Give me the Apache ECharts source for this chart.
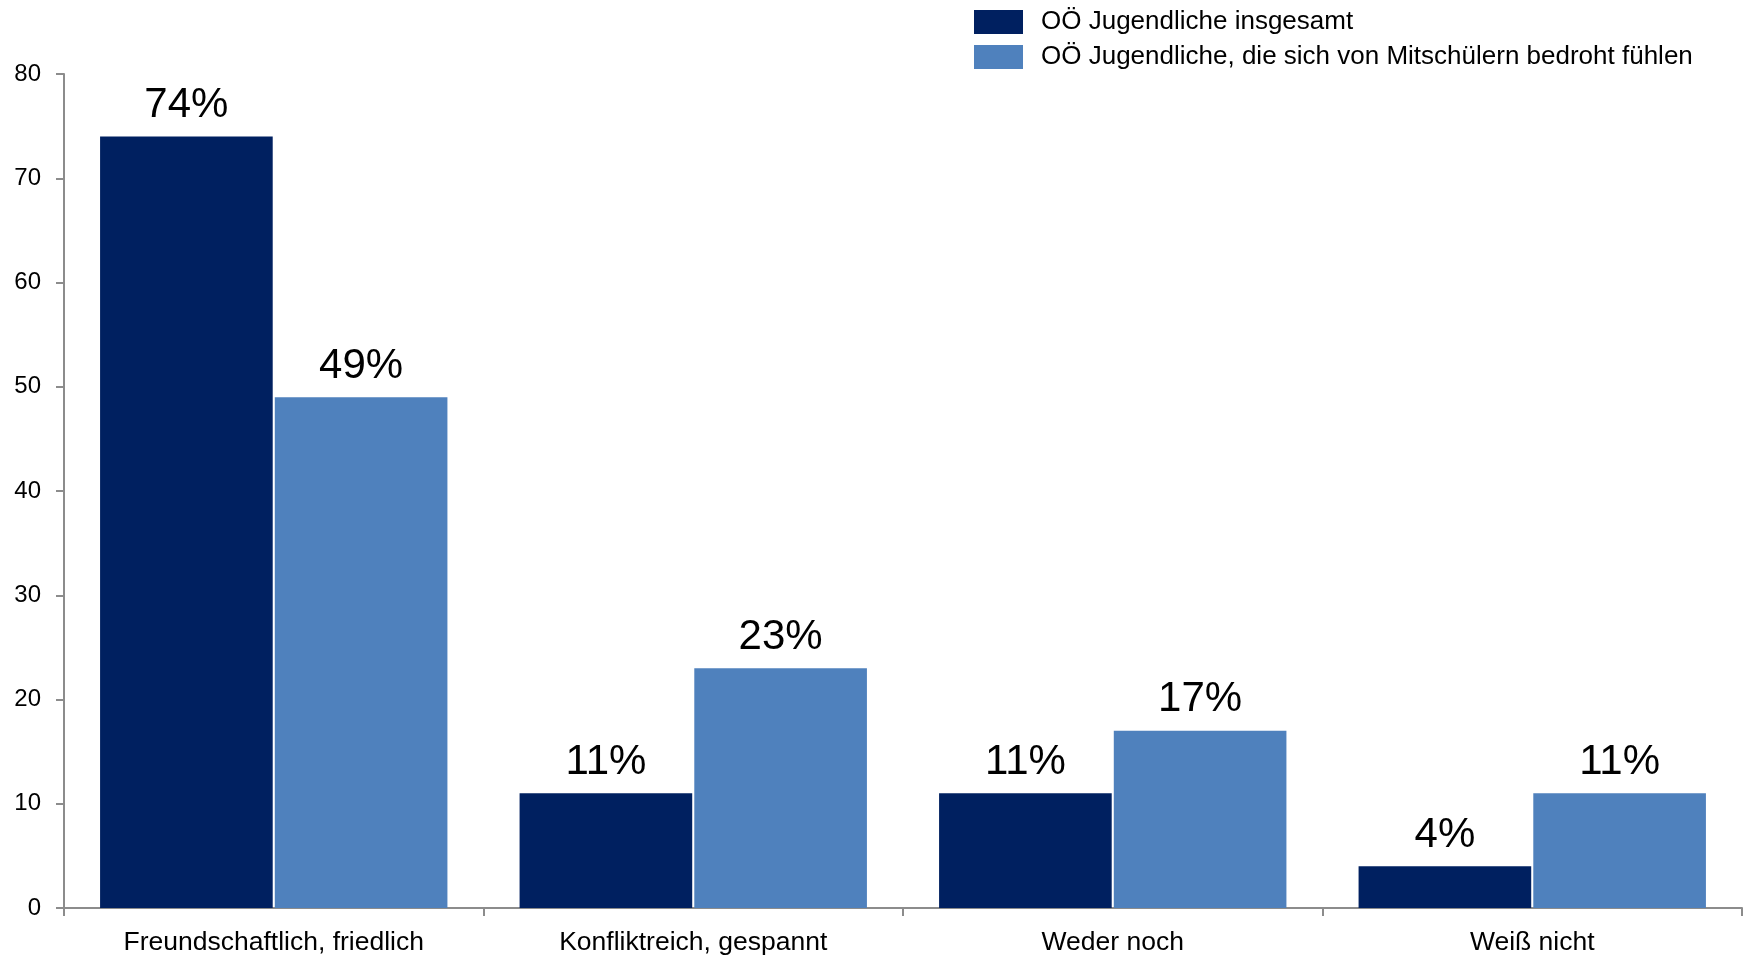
<!DOCTYPE html>
<html>
<head>
<meta charset="utf-8">
<script src="https://cdn.jsdelivr.net/npm/echarts@6/dist/echarts.min.js"></script>
<style>
html,body{margin:0;padding:0;background:#fff;}
#chart{width:1745px;height:956px;}
</style>
</head>
<body>
<div id="chart"></div>
<script>
const categories = ['Freundschaftlich, friedlich', 'Konfliktreich, gespannt', 'Weder noch', 'Weiß nicht'];
const seriesNames = ['OÖ Jugendliche insgesamt', 'OÖ Jugendliche, die sich von Mitschülern bedroht fühlen'];
const insgesamt = [74, 11, 11, 4];
const bedroht = [49, 23, 17, 11];
const yTicks = [0, 10, 20, 30, 40, 50, 60, 70, 80];

const FONT = "'Liberation Sans', Arial, sans-serif";
const chart = echarts.init(document.getElementById('chart'), null, {renderer: 'canvas'});
const labelCfg = {
  show: true,
  position: 'top',
  distance: 10,
  formatter: '{c}%',
  fontSize: 42,
  color: '#000',
  fontFamily: FONT
};
chart.setOption({
  animation: false,
  backgroundColor: '#fff',
  textStyle: {fontFamily: FONT},
  legend: {
    orient: 'vertical',
    left: 969,
    top: 4,
    padding: 5,
    itemWidth: 49,
    itemHeight: 24,
    itemGap: 9,
    icon: 'rect',
    textStyle: {fontSize: 26, color: '#000', fontFamily: FONT, lineHeight: 24, padding: [0, 0, 0, 13]},
    data: seriesNames
  },
  grid: {left: 64, right: 3, top: 74, bottom: 47.5, containLabel: false},
  xAxis: {
    type: 'category',
    data: categories,
    axisLine: {show: true, lineStyle: {color: '#8c8c8c', width: 2}},
    axisTick: {show: true, length: 8, alignWithLabel: false, lineStyle: {color: '#8c8c8c', width: 2}},
    axisLabel: {fontSize: 26.5, color: '#000', fontFamily: FONT, margin: 21, interval: 0},
    splitLine: {show: false}
  },
  yAxis: {
    type: 'value',
    min: yTicks[0],
    max: yTicks[yTicks.length - 1],
    interval: yTicks[1] - yTicks[0],
    axisLine: {show: true, lineStyle: {color: '#8c8c8c', width: 2}},
    axisTick: {show: true, length: 8, inside: false, lineStyle: {color: '#8c8c8c', width: 2}},
    axisLabel: {fontSize: 24, color: '#000', fontFamily: FONT, margin: 23},
    splitLine: {show: false}
  },
  series: [
    {
      name: seriesNames[0],
      type: 'bar',
      data: insgesamt,
      itemStyle: {color: '#002060'},
      barCategoryGap: '17.2%',
      barGap: '1.2%',
      label: labelCfg
    },
    {
      name: seriesNames[1],
      type: 'bar',
      data: bedroht,
      itemStyle: {color: '#4F81BD'},
      barCategoryGap: '17.2%',
      barGap: '1.2%',
      label: labelCfg
    }
  ]
});
</script>
</body>
</html>
